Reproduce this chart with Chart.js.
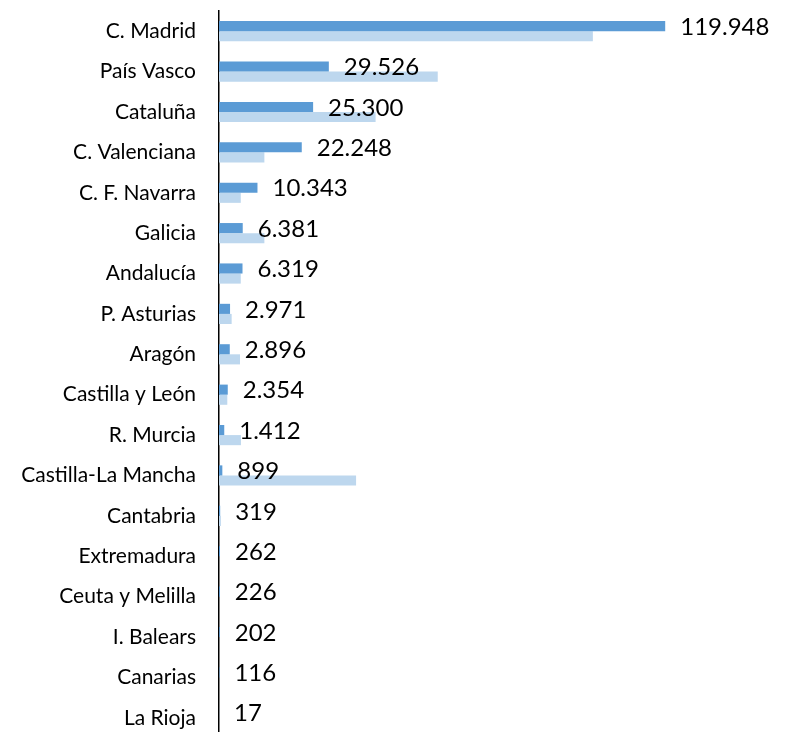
<!DOCTYPE html>
<html>
<head>
<meta charset="utf-8">
<script src="https://cdn.jsdelivr.net/npm/chart.js@4.4.1/dist/chart.umd.min.js"></script>
<style>
html,body{margin:0;padding:0;background:#fff;overflow:hidden;}
#wrap{width:786px;height:746px;position:relative;}
</style>
</head>
<body>
<div id="wrap"><canvas id="c"></canvas></div>
<script>
const categories = ["C. Madrid","País Vasco","Cataluña","C. Valenciana","C. F. Navarra","Galicia","Andalucía","P. Asturias","Aragón","Castilla y León","R. Murcia","Castilla-La Mancha","Cantabria","Extremadura","Ceuta y Melilla","I. Balears","Canarias","La Rioja"];
const seriesMain = [119948,29526,25300,22248,10343,6381,6319,2971,2896,2354,1412,899,319,262,226,202,116,17];
const seriesPrev = [100500,58800,42100,12200,5850,12200,5850,3400,5650,2230,5900,36850,500,0,0,0,0,0];
const xMax = 150000;

function fmt(v){ return String(v).replace(/\B(?=(\d{3})+(?!\d))/g, "."); }

const labelPlugin = {
  id: 'valueLabels',
  afterDatasetsDraw(chart){
    const ctx = chart.ctx;
    const meta = chart.getDatasetMeta(0);
    ctx.save();
    ctx.font = '24px Lato';
    ctx.fillStyle = '#000';
    ctx.textAlign = 'left';
    ctx.textBaseline = 'middle';
    meta.data.forEach((bar, i) => {
      ctx.fillText(fmt(seriesMain[i]), bar.x + 15, bar.y + 1);
    });
    ctx.restore();
  }
};

new Chart(document.getElementById('c'), {
  type: 'bar',
  data: {
    labels: categories,
    datasets: [
      {data: seriesMain, backgroundColor: '#5B9BD5', categoryPercentage: 0.5, barPercentage: 1.0},
      {data: seriesPrev, backgroundColor: '#BDD7EE', categoryPercentage: 0.5, barPercentage: 1.0}
    ]
  },
  options: {
    indexAxis: 'y',
    responsive: true,
    maintainAspectRatio: false,
    animation: false,
    layout: {padding: {top: 11, right: 9, bottom: 8, left: 0}},
    plugins: {legend: {display: false}, tooltip: {enabled: false}},
    scales: {
      x: {display: false, min: 0, max: xMax},
      y: {
        afterFit(scale){ scale.width = 219; scale.paddingTop = 0; scale.paddingBottom = 0; },
        grid: {display: false, drawTicks: false},
        border: {display: true, color: '#000', width: 1.5},
        ticks: {padding: 23, color: '#000', font: {family: 'Lato', size: 21}}
      }
    }
  },
  plugins: [labelPlugin]
});
</script>
</body>
</html>
